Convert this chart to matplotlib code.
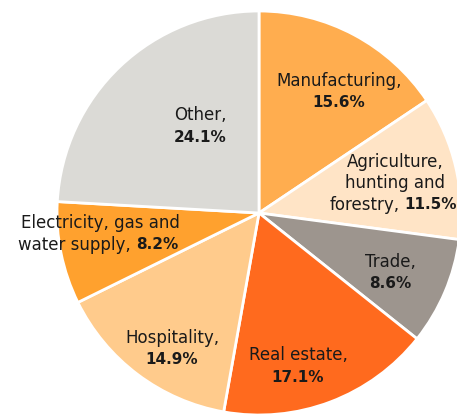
"""Pie chart: share of sectors."""
import matplotlib.pyplot as plt

sectors = [
    "Manufacturing",
    "Agriculture, hunting and forestry",
    "Trade",
    "Real estate",
    "Hospitality",
    "Electricity, gas and water supply",
    "Other",
]
shares = [15.6, 11.5, 8.6, 17.1, 14.9, 8.2, 24.1]
colors = ["#FFAD4F", "#FFE4C6", "#9D958E", "#FF6A1E", "#FFCB8C", "#FFA12E", "#DBDAD6"]

W, H = 457, 417
CX, CY, R = 259, 213, 202
FONT = "DejaVu Sans"
FS = 12
FS_BOLD = 11
TEXT_COLOR = "#1a1a1a"


def px(x, y):
    return (x - CX) / R, (CY - y) / R


fig = plt.figure(figsize=(W / 100, H / 100), dpi=100)
ax = fig.add_axes([(CX - R) / W, (H - CY - R) / H, 2 * R / W, 2 * R / H])
ax.pie(
    shares,
    colors=colors,
    startangle=90,
    counterclock=False,
    radius=1.0,
    wedgeprops=dict(edgecolor="white", linewidth=2),
)
ax.set_xlim(-1, 1)
ax.set_ylim(-1, 1)
ax.axis("off")


def name_text(x, y, s, ha="center"):
    ax.text(*px(x, y), s, ha=ha, va="center", fontsize=FS,
            family=FONT, color=TEXT_COLOR)


def value_text(x, y, s, ha="center"):
    ax.text(*px(x, y), s, ha=ha, va="center", fontsize=FS_BOLD,
            family=FONT, weight="bold", color=TEXT_COLOR)


def label(x, y, name, value):
    name_text(x, y - 11, name)
    value_text(x, y + 11, value)


def pct(v):
    return f"{v}%"


label(339, 92, "Manufacturing,", pct(shares[0]))
label(200, 126, "Other,", pct(shares[6]))
label(390, 273, "Trade,", pct(shares[2]))
label(298, 366, "Real estate,", pct(shares[3]))
label(172, 349, "Hospitality,", pct(shares[4]))

# Agriculture block
name_text(395, 162, "Agriculture,")
name_text(395, 183, "hunting and")
name_text(400, 205, "forestry,", ha="right")
value_text(404, 205, pct(shares[1]), ha="left")

# Electricity block
name_text(100, 223, "Electricity, gas and")
name_text(131, 245, "water supply,", ha="right")
value_text(136, 245, pct(shares[5]), ha="left")

fig.savefig("out.png", dpi=100)
